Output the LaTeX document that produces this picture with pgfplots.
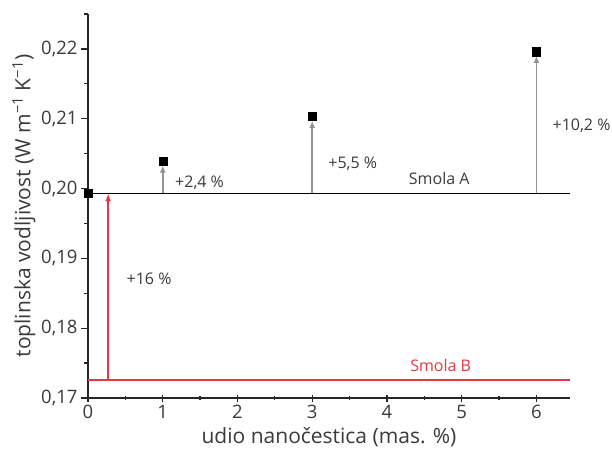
\documentclass[border=0pt]{standalone}
\usepackage{pgfplots}
\pgfplotsset{compat=1.18}
\usepackage{fontspec}
\setmainfont{Open Sans}
\usetikzlibrary{arrows.meta,calc}
\definecolor{txt}{HTML}{3A3A3A}
\definecolor{arrgray}{HTML}{939393}
\definecolor{redline}{HTML}{E23A44}
\begin{document}
\begin{tikzpicture}
\begin{axis}[
  name=ax,
  scale only axis,
  width=482pt, height=384pt,
  xmin=0, xmax=6.45, ymin=0.17, ymax=0.225,
  axis lines*=left,
  axis line style={line width=1.2pt, black!85},
  xtick={0,1,2,3,4,5,6},
  minor xtick={0.5,1.5,2.5,3.5,4.5,5.5,6.5},
  ytick={0.17,0.18,0.19,0.20,0.21,0.22},
  minor ytick={0.175,0.185,0.195,0.205,0.215,0.225},
  tick style={line width=1.2pt, black!85},
  major tick length=7pt, minor tick length=4pt,
  ytick align=outside,
  xtick align=center,
  /pgf/number format/assume math mode=true,
  yticklabel style={/pgf/number format/.cd, use comma, fixed, fixed zerofill, precision=2},
  xticklabel style={/pgf/number format/.cd, fixed, precision=0},
  ticklabel style={font=\fontsize{18.5}{22}\selectfont, text=txt},
  xlabel={udio nanočestica (mas. \%)},
  ylabel={toplinska vodljivost (W m\textsuperscript{−1} K\textsuperscript{−1})},
  label style={font=\fontsize{21}{25}\selectfont, text=txt},
  xlabel style={at={(axis description cs:0.5,0)}, anchor=center, yshift=-39pt},
  ylabel style={at={(axis description cs:0,0.5)}, anchor=center, yshift=64pt},
  clip=false,
]
\addplot[redline, line width=1.5pt] coordinates {(0,0.1726) (6.45,0.1726)};
\addplot[black, line width=1.6pt] coordinates {(0,0.1993) (6.45,0.1993)};
\addplot[redline, line width=1.5pt, -{Latex[length=8pt,width=6pt]}] coordinates {(0.27,0.1726) (0.27,0.1993)};
\addplot[arrgray, line width=1.6pt, -{Latex[length=7pt,width=6pt]}] coordinates {(1,0.1993) (1,0.2033)};
\addplot[arrgray, line width=1.6pt, -{Latex[length=7pt,width=6pt]}] coordinates {(3,0.1993) (3,0.2097)};
\addplot[arrgray, line width=1.6pt, -{Latex[length=7pt,width=6pt]}] coordinates {(6,0.1993) (6,0.2190)};
\addplot[only marks, mark=square*, mark size=4pt, black] coordinates {(0,0.1993) (1,0.2039) (3,0.2103) (6,0.2196)};
\node[anchor=west, text=txt, font=\fontsize{16}{19}\selectfont] at (axis cs:1.12,0.2009) {+2,4 \%};
\node[anchor=west, text=txt, font=\fontsize{16}{19}\selectfont] at (axis cs:3.17,0.2036) {+5,5 \%};
\node[anchor=west, text=txt, font=\fontsize{16}{19}\selectfont] at (axis cs:6.17,0.2090) {+10,2 \%};
\node[text=txt, font=\fontsize{16}{19}\selectfont] at (axis cs:4.7,0.2014) {Smola A};
\node[text=redline, font=\fontsize{16}{19}\selectfont] at (axis cs:4.72,0.1746) {Smola B};
\node[anchor=west, text=txt, font=\fontsize{16}{19}\selectfont] at (axis cs:0.47,0.1871) {+16 \%};
\end{axis}
\pgfresetboundingbox
\useasboundingbox ($(ax.south west)+(-88pt,-68pt)$) rectangle ($(ax.north east)+(42pt,14pt)$);
\end{tikzpicture}
\end{document}
